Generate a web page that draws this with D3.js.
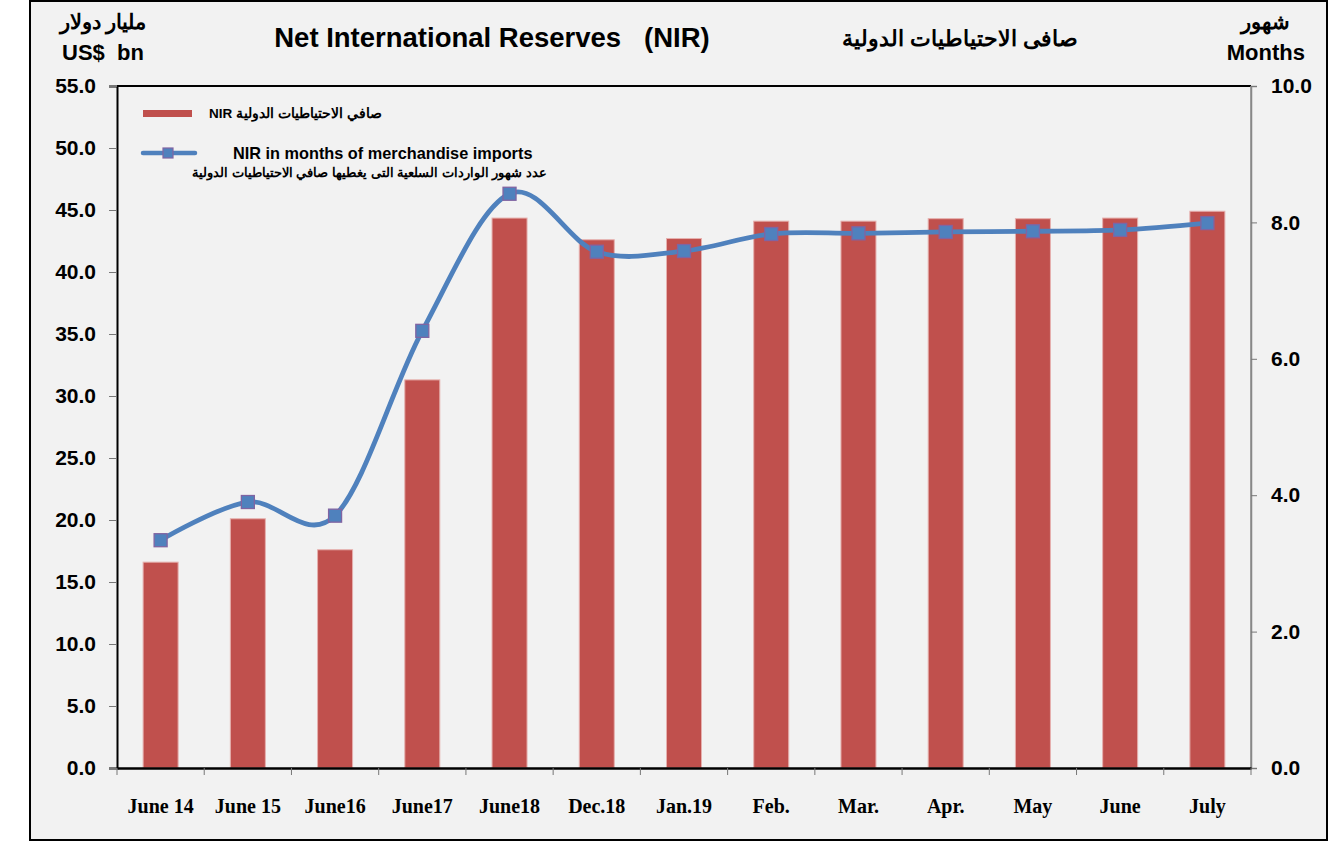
<!DOCTYPE html>
<html><head><meta charset="utf-8">
<script src="https://cdn.jsdelivr.net/npm/d3@7"></script>
<style>body{margin:0;background:#fff;}svg{display:block;}</style>
</head><body>
<svg id="c" width="1334" height="848"></svg>
<script>
const categories = ["June 14","June 15","June16","June17","June18","Dec.18","Jan.19","Feb.","Mar.","Apr.","May","June","July"];
const nirValues = [16.6, 20.1, 17.6, 31.3, 44.35, 42.6, 42.7, 44.1, 44.1, 44.3, 44.3, 44.35, 44.9];
const monthsValues = [3.34, 3.90, 3.70, 6.41, 8.42, 7.57, 7.58, 7.83, 7.84, 7.86, 7.87, 7.89, 7.99];
const leftTicks = [0,5,10,15,20,25,30,35,40,45,50,55];
const rightTicks = [0,2,4,6,8,10];

const svg = d3.select("#c");
const L = 117, R = 1251, T = 86, B = 768;
const sans = "'Liberation Sans', Arial, sans-serif";
const serif = "'Liberation Serif', 'Times New Roman', serif";

svg.append("rect").attr("x",30).attr("y",1).attr("width",1297).attr("height",839)
  .attr("fill","#f2f2f2").attr("stroke","#000").attr("stroke-width",2);

const xb = d3.scaleBand().domain(categories).range([L,R]);
const yL = d3.scaleLinear().domain([0,55]).range([B,T]);
const yR = d3.scaleLinear().domain([0,10]).range([B,T]);

// plot frame
svg.append("line").attr("x1",L).attr("x2",R).attr("y1",T).attr("y2",T).attr("stroke","#000").attr("stroke-width",2);
svg.append("line").attr("x1",R).attr("x2",R).attr("y1",T).attr("y2",B).attr("stroke","#888").attr("stroke-width",1.5);

// bars
svg.append("g").selectAll("rect").data(nirValues).join("rect")
  .attr("x",(d,i)=>xb(categories[i]) + xb.bandwidth()/2 - 17.5)
  .attr("width",35)
  .attr("y",d=>yL(d)).attr("height",d=>B-yL(d))
  .attr("fill","#c0504d").attr("stroke","#e6b0ae").attr("stroke-width",1);

// left axis
const gL = svg.append("g").attr("transform",`translate(${L},0)`)
  .call(d3.axisLeft(yL).tickValues(leftTicks).tickFormat(d3.format(".1f")).tickSize(8).tickPadding(13));
gL.select(".domain").attr("stroke","#000").attr("stroke-width",2);
gL.selectAll(".tick line").attr("stroke","#777");
gL.selectAll("text").attr("font-family",sans).attr("font-weight","bold").attr("font-size",21).attr("fill","#000");

// right axis
const gR = svg.append("g").attr("transform",`translate(${R},0)`)
  .call(d3.axisRight(yR).tickValues(rightTicks).tickFormat(d3.format(".1f")).tickSize(6).tickPadding(14));
gR.select(".domain").attr("stroke","#888").attr("stroke-width",1.5);
gR.selectAll(".tick line").attr("stroke","#777");
gR.selectAll("text").attr("font-family",sans).attr("font-weight","bold").attr("font-size",21).attr("fill","#000");

// bottom axis
const gB = svg.append("g").attr("transform",`translate(0,${B})`)
  .call(d3.axisBottom(xb).tickSize(0).tickPadding(31));
gB.select(".domain").attr("stroke","#000").attr("stroke-width",2.5);
gB.selectAll("text").attr("font-family",serif).attr("font-weight","bold").attr("font-size",20).attr("fill","#000");
svg.append("g").selectAll("line").data(d3.range(categories.length+1)).join("line")
  .attr("x1",i=>L + i*xb.step()).attr("x2",i=>L + i*xb.step())
  .attr("y1",B).attr("y2",B+7).attr("stroke","#777");

// line
const lineGen = d3.line().x((d,i)=>xb(categories[i])+xb.bandwidth()/2).y(d=>yR(d)).curve(d3.curveCardinal.tension(0));
svg.append("path").datum(monthsValues).attr("d",lineGen)
  .attr("fill","none").attr("stroke","#4f81bd").attr("stroke-width",4.8);
svg.append("g").selectAll("rect").data(monthsValues).join("rect")
  .attr("x",(d,i)=>xb(categories[i])+xb.bandwidth()/2-6.5).attr("y",d=>yR(d)-6.5)
  .attr("width",13).attr("height",13)
  .attr("fill","#4f81bd").attr("stroke","#8064a2").attr("stroke-width",1.3);

// legend
svg.append("rect").attr("x",143).attr("y",110).attr("width",49).attr("height",7).attr("fill","#c0504d");
svg.append("text").attr("x",209).attr("y",118).attr("font-family",sans).attr("font-weight","bold").attr("font-size",13.5)
  .text("NIR صافي الاحتياطيات الدولية");
svg.append("line").attr("x1",143).attr("x2",195).attr("y1",153).attr("y2",153).attr("stroke","#4f81bd").attr("stroke-width",4.5).attr("stroke-linecap","round");
svg.append("rect").attr("x",163).attr("y",148).attr("width",10).attr("height",10).attr("fill","#4f81bd").attr("stroke","#8064a2").attr("stroke-width",1.2);
svg.append("text").attr("x",233).attr("y",159).attr("font-family",sans).attr("font-weight","bold").attr("font-size",16.3)
  .text("NIR in months of merchandise imports");
svg.append("text").attr("x",547).attr("y",177).attr("text-anchor","end").attr("font-family",sans).attr("font-weight","bold").attr("font-size",13)
  .text("عدد شهور الواردات السلعية التى يغطيها صافي الاحتياطيات الدولية");

// titles
svg.append("text").attr("x",492).attr("y",47).attr("text-anchor","middle").attr("font-family",sans).attr("font-weight","bold").attr("font-size",27.5)
  .attr("xml:space","preserve").text("Net International Reserves   (NIR)");
svg.append("text").attr("x",960).attr("y",46).attr("text-anchor","middle").attr("font-family",sans).attr("font-weight","bold").attr("font-size",22)
  .text("صافى الاحتياطيات الدولية");
svg.append("text").attr("x",103).attr("y",29).attr("text-anchor","middle").attr("font-family",sans).attr("font-weight","bold").attr("font-size",21)
  .text("مليار دولار");
svg.append("text").attr("x",103).attr("y",60).attr("text-anchor","middle").attr("font-family",sans).attr("font-weight","bold").attr("font-size",22)
  .attr("xml:space","preserve").text("US$  bn");
svg.append("text").attr("x",1290).attr("y",29).attr("text-anchor","end").attr("font-family",sans).attr("font-weight","bold").attr("font-size",21)
  .text("شهور");
svg.append("text").attr("x",1305).attr("y",60).attr("text-anchor","end").attr("font-family",sans).attr("font-weight","bold").attr("font-size",22)
  .text("Months");
</script>
</body></html>
